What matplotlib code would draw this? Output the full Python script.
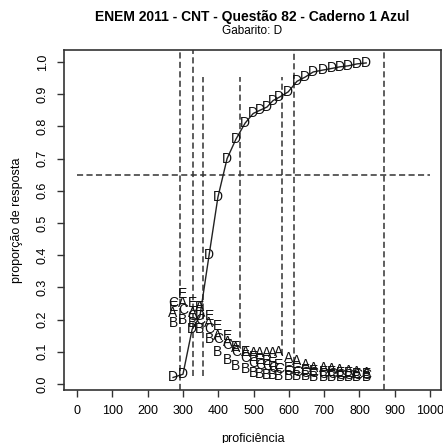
import matplotlib
matplotlib.use("Agg")
import matplotlib.pyplot as plt

plt.rcParams['font.family'] = ['Liberation Sans', 'DejaVu Sans']

# proficiency groups and proportion choosing each option
prof = [272, 300, 326, 348, 374, 399, 425, 450, 476, 499, 518, 538,
        555, 572, 598, 623, 646, 669, 697, 722, 745, 768, 793, 819]
opt_D = [0.02, 0.03, 0.17, 0.21, 0.40, 0.58, 0.70, 0.76, 0.81, 0.84, 0.85, 0.86,
         0.88, 0.89, 0.907, 0.94, 0.953, 0.969, 0.975, 0.98, 0.985, 0.988, 0.994, 0.997]
opt_A = [0.22, 0.25, 0.22, 0.24, 0.19, 0.15, 0.13, 0.11, 0.10, 0.095, 0.095, 0.095,
         0.095, 0.10, 0.08, 0.07, 0.06, 0.05, 0.048, 0.045, 0.042, 0.04, 0.038, 0.035]
opt_B = [0.19, 0.20, 0.19, 0.17, 0.14, 0.10, 0.075, 0.055, 0.045, 0.035, 0.03, 0.028,
         0.027, 0.026, 0.025, 0.024, 0.023, 0.022, 0.022, 0.021, 0.021, 0.02, 0.02, 0.02]
opt_C = [0.25, 0.23, 0.21, 0.20, 0.17, 0.14, 0.12, 0.10, 0.08, 0.065, 0.06, 0.055,
         0.05, 0.045, 0.04, 0.038, 0.035, 0.033, 0.03, 0.03, 0.028, 0.028, 0.027, 0.027]
opt_E = [0.24, 0.28, 0.25, 0.24, 0.21, 0.18, 0.15, 0.115, 0.10, 0.085, 0.075, 0.07,
         0.065, 0.06, 0.05, 0.045, 0.042, 0.04, 0.038, 0.036, 0.035, 0.033, 0.032, 0.03]

# reference lines
vline_x = [292, 329, 357, 462, 581, 615, 870]
vline_lo = [-0.02, 0.025, 0.025, 0.115, 0.09, 0.065, -0.02]
vline_hi = [1.04, 1.04, 0.953, 0.953, 0.953, 1.04, 1.04]
hline_y = 0.65

xticks = [0, 100, 200, 300, 400, 500, 600, 700, 800, 900, 1000]
yticks = [0.0, 0.1, 0.2, 0.3, 0.4, 0.5, 0.6, 0.7, 0.8, 0.9, 1.0]

fig = plt.figure(figsize=(4.43, 4.43), dpi=100)
ax = fig.add_axes([0.1445, 0.1196, 0.851, 0.7674])

dash = dict(color='#333333', lw=1.1, linestyle=(0, (4, 2.2)))
for x, lo, hi in zip(vline_x, vline_lo, vline_hi):
    ax.plot([x, x], [lo, hi], **dash)
ax.plot([0, 1000], [hline_y, hline_y], **dash)

ax.plot(prof, opt_D, color='#222222', lw=1.0)
for name, vals in [('A', opt_A), ('B', opt_B), ('C', opt_C), ('E', opt_E), ('D', opt_D)]:
    for x, y in zip(prof, vals):
        ax.text(x, y, name, ha='center', va='center', fontsize=10, color='#111111')

ax.set_xlim(-37, 1031)
ax.set_ylim(-0.019, 1.037)
ax.set_xticks(xticks)
ax.set_yticks(yticks)
ax.set_yticklabels(['%.1f' % v for v in yticks], rotation=90, va='center')
ax.tick_params(labelsize=9, length=5, width=1, color='#333333', pad=6)
for s in ax.spines.values():
    s.set_linewidth(1.2)
    s.set_color('#333333')

ax.set_xlabel('proficiência', fontsize=9, labelpad=11)
ax.set_ylabel('proporção de resposta', fontsize=9, labelpad=10)

fig.text(0.569, 0.962, 'ENEM 2011 - CNT - Questão 82 - Caderno 1 Azul',
         ha='center', va='center', fontsize=10, fontweight='bold')
fig.text(0.569, 0.929, 'Gabarito: D', ha='center', va='center', fontsize=8.5)

fig.savefig('out.png', dpi=100)
